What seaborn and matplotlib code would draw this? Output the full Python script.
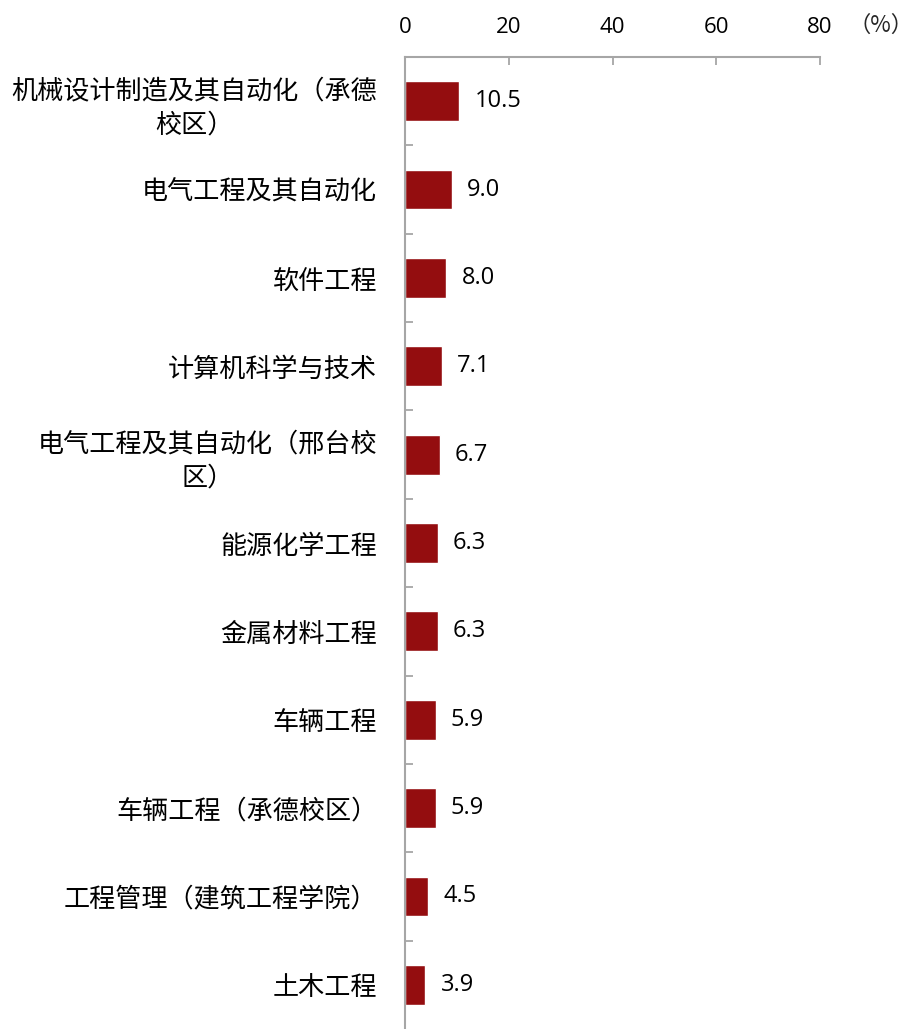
import matplotlib
matplotlib.use("Agg")
import matplotlib.pyplot as plt
import seaborn as sns
import pandas as pd
import numpy as np

# Majors and their share (%)
majors = [
    "机械设计制造及其自动化（承德\n校区）",
    "电气工程及其自动化",
    "软件工程",
    "计算机科学与技术",
    "电气工程及其自动化（邢台校\n区）",
    "能源化学工程",
    "金属材料工程",
    "车辆工程",
    "车辆工程（承德校区）",
    "工程管理（建筑工程学院）",
    "土木工程",
]
shares = [10.5, 9.0, 8.0, 7.1, 6.7, 6.3, 6.3, 5.9, 5.9, 4.5, 3.9]
x_ticks = [0, 20, 40, 60, 80]

sns.set_theme(style="white")
plt.rcParams["font.family"] = ["Open Sans", "Noto Sans CJK SC", "DejaVu Sans"]

df = pd.DataFrame({"major": majors, "share": shares})

fig = plt.figure(figsize=(9.12, 10.29), dpi=100)
ax = fig.add_axes([405 / 912, 0.0, 415 / 912, 1 - 57 / 1029])

sns.barplot(data=df, x="share", y="major", orient="h", color="#940D0F",
            saturation=1, width=0.45, ax=ax)

axis_gray = "#A6A6A6"
ax.set_xlim(0, 80)
ax.set_ylim(len(majors) - 0.5, -0.5)
ax.set_xlabel("")
ax.set_ylabel("")

# X axis on top with inward ticks
ax.xaxis.tick_top()
ax.set_xticks(x_ticks)
ax.set_xticklabels([str(t) for t in x_ticks], fontsize=16, color="black")
ax.tick_params(axis="x", direction="in", length=6, width=1.3, color=axis_gray,
               pad=14, top=True, bottom=False)

# Y axis: category separators as minor ticks
ax.set_yticks(np.arange(len(majors)))
ax.set_yticks(np.arange(len(majors) - 1) + 0.5, minor=True)
ax.tick_params(axis="y", which="major", length=0, pad=20)
ax.tick_params(axis="y", which="minor", direction="in", length=6, width=1.3,
               color=axis_gray, left=True)
for lbl in ax.get_yticklabels():
    lbl.set_fontfamily("Noto Sans CJK SC")
    lbl.set_fontsize(18.8)
    lbl.set_color("black")
    lbl.set_multialignment("center")
    lbl.set_linespacing(1.35)

for side in ["right", "bottom"]:
    ax.spines[side].set_visible(False)
for side in ["top", "left"]:
    ax.spines[side].set_color(axis_gray)
    ax.spines[side].set_linewidth(1.5)

ax.bar_label(ax.containers[0], fmt="%.1f", padding=11, fontsize=17, color="black")

fig.text(881 / 912, 1 - 25 / 1029, "（%）", ha="center", va="center",
         fontsize=16, fontfamily="Noto Sans CJK SC")

fig.savefig("out.png", dpi=100)
